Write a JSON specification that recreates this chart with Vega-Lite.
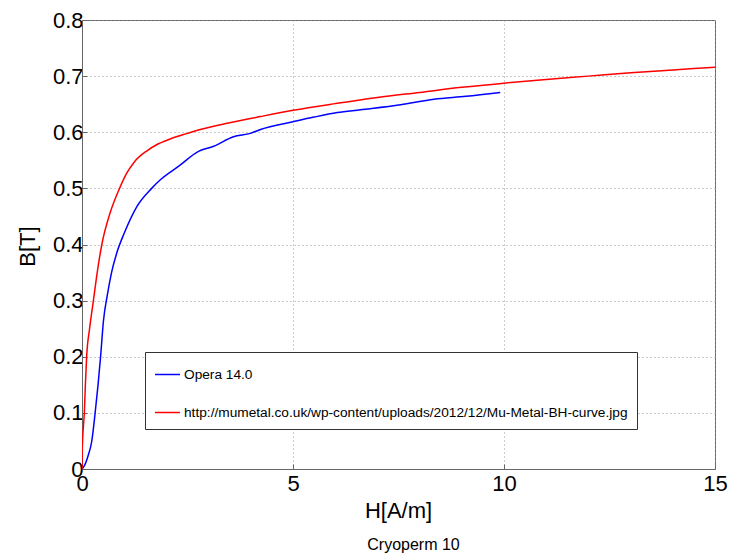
{
  "$schema": "https://vega.github.io/schema/vega-lite/v6.json",
  "width": 633,
  "height": 449,
  "autosize": {"type": "none"},
  "padding": {"left": 82, "top": 20, "right": 19, "bottom": 91},
  "background": "white",
  "title": {
    "text": "Cryoperm 10",
    "orient": "bottom",
    "anchor": "middle",
    "font": "Liberation Sans",
    "fontSize": 16,
    "fontWeight": "normal",
    "color": "black",
    "dx": 15,
    "offset": 16
  },
  "config": {
    "font": "Liberation Sans",
    "view": {"stroke": "#666", "strokeWidth": 1},
    "axis": {
      "labelFont": "Liberation Sans",
      "labelFontSize": 22,
      "labelColor": "black",
      "labelFlush": false,
      "titleFont": "Liberation Sans",
      "titleFontSize": 22,
      "titleFontWeight": "normal",
      "titleColor": "black",
      "domainColor": "#666",
      "tickColor": "#666",
      "tickSize": -5,
      "gridColor": "#999999",
      "gridDash": [1, 3],
      "gridWidth": 1
    },
    "legend": {
      "labelFont": "Liberation Sans",
      "labelFontSize": 13.7,
      "labelColor": "black"
    }
  },
  "data": {
    "values": [
      {"s": "Opera 14.0", "H": 0, "B": 0},
      {"s": "Opera 14.0", "H": 0.05, "B": 0.005},
      {"s": "Opera 14.0", "H": 0.15, "B": 0.025},
      {"s": "Opera 14.0", "H": 0.23, "B": 0.049},
      {"s": "Opera 14.0", "H": 0.31, "B": 0.099},
      {"s": "Opera 14.0", "H": 0.38, "B": 0.15},
      {"s": "Opera 14.0", "H": 0.44, "B": 0.2},
      {"s": "Opera 14.0", "H": 0.51, "B": 0.265},
      {"s": "Opera 14.0", "H": 0.6, "B": 0.31},
      {"s": "Opera 14.0", "H": 0.7, "B": 0.35},
      {"s": "Opera 14.0", "H": 0.82, "B": 0.384},
      {"s": "Opera 14.0", "H": 1.0, "B": 0.42},
      {"s": "Opera 14.0", "H": 1.3, "B": 0.4676},
      {"s": "Opera 14.0", "H": 1.65, "B": 0.5},
      {"s": "Opera 14.0", "H": 1.85, "B": 0.515},
      {"s": "Opera 14.0", "H": 2.3, "B": 0.54},
      {"s": "Opera 14.0", "H": 2.76, "B": 0.566},
      {"s": "Opera 14.0", "H": 3.12, "B": 0.575},
      {"s": "Opera 14.0", "H": 3.59, "B": 0.592},
      {"s": "Opera 14.0", "H": 3.99, "B": 0.598},
      {"s": "Opera 14.0", "H": 4.23, "B": 0.605},
      {"s": "Opera 14.0", "H": 5.02, "B": 0.619},
      {"s": "Opera 14.0", "H": 5.5, "B": 0.627},
      {"s": "Opera 14.0", "H": 6.05, "B": 0.635},
      {"s": "Opera 14.0", "H": 6.6, "B": 0.64},
      {"s": "Opera 14.0", "H": 7.55, "B": 0.649},
      {"s": "Opera 14.0", "H": 8.34, "B": 0.659},
      {"s": "Opera 14.0", "H": 9.1, "B": 0.664},
      {"s": "Opera 14.0", "H": 9.91, "B": 0.671},
      {"s": "http://mumetal.co.uk/wp-content/uploads/2012/12/Mu-Metal-BH-curve.jpg", "H": 0, "B": 0},
      {"s": "http://mumetal.co.uk/wp-content/uploads/2012/12/Mu-Metal-BH-curve.jpg", "H": 0.005, "B": 0.03},
      {"s": "http://mumetal.co.uk/wp-content/uploads/2012/12/Mu-Metal-BH-curve.jpg", "H": 0.02, "B": 0.06},
      {"s": "http://mumetal.co.uk/wp-content/uploads/2012/12/Mu-Metal-BH-curve.jpg", "H": 0.055, "B": 0.1},
      {"s": "http://mumetal.co.uk/wp-content/uploads/2012/12/Mu-Metal-BH-curve.jpg", "H": 0.08, "B": 0.15},
      {"s": "http://mumetal.co.uk/wp-content/uploads/2012/12/Mu-Metal-BH-curve.jpg", "H": 0.11, "B": 0.2},
      {"s": "http://mumetal.co.uk/wp-content/uploads/2012/12/Mu-Metal-BH-curve.jpg", "H": 0.18, "B": 0.25},
      {"s": "http://mumetal.co.uk/wp-content/uploads/2012/12/Mu-Metal-BH-curve.jpg", "H": 0.27, "B": 0.3},
      {"s": "http://mumetal.co.uk/wp-content/uploads/2012/12/Mu-Metal-BH-curve.jpg", "H": 0.36, "B": 0.35},
      {"s": "http://mumetal.co.uk/wp-content/uploads/2012/12/Mu-Metal-BH-curve.jpg", "H": 0.47, "B": 0.4},
      {"s": "http://mumetal.co.uk/wp-content/uploads/2012/12/Mu-Metal-BH-curve.jpg", "H": 0.665, "B": 0.456},
      {"s": "http://mumetal.co.uk/wp-content/uploads/2012/12/Mu-Metal-BH-curve.jpg", "H": 0.89, "B": 0.5},
      {"s": "http://mumetal.co.uk/wp-content/uploads/2012/12/Mu-Metal-BH-curve.jpg", "H": 1.06, "B": 0.527},
      {"s": "http://mumetal.co.uk/wp-content/uploads/2012/12/Mu-Metal-BH-curve.jpg", "H": 1.25, "B": 0.548},
      {"s": "http://mumetal.co.uk/wp-content/uploads/2012/12/Mu-Metal-BH-curve.jpg", "H": 1.54, "B": 0.567},
      {"s": "http://mumetal.co.uk/wp-content/uploads/2012/12/Mu-Metal-BH-curve.jpg", "H": 1.8, "B": 0.579},
      {"s": "http://mumetal.co.uk/wp-content/uploads/2012/12/Mu-Metal-BH-curve.jpg", "H": 2.09, "B": 0.588},
      {"s": "http://mumetal.co.uk/wp-content/uploads/2012/12/Mu-Metal-BH-curve.jpg", "H": 2.5, "B": 0.598},
      {"s": "http://mumetal.co.uk/wp-content/uploads/2012/12/Mu-Metal-BH-curve.jpg", "H": 2.8, "B": 0.605},
      {"s": "http://mumetal.co.uk/wp-content/uploads/2012/12/Mu-Metal-BH-curve.jpg", "H": 3.5, "B": 0.617},
      {"s": "http://mumetal.co.uk/wp-content/uploads/2012/12/Mu-Metal-BH-curve.jpg", "H": 4.23, "B": 0.628},
      {"s": "http://mumetal.co.uk/wp-content/uploads/2012/12/Mu-Metal-BH-curve.jpg", "H": 5, "B": 0.639},
      {"s": "http://mumetal.co.uk/wp-content/uploads/2012/12/Mu-Metal-BH-curve.jpg", "H": 6, "B": 0.651},
      {"s": "http://mumetal.co.uk/wp-content/uploads/2012/12/Mu-Metal-BH-curve.jpg", "H": 7, "B": 0.662},
      {"s": "http://mumetal.co.uk/wp-content/uploads/2012/12/Mu-Metal-BH-curve.jpg", "H": 8, "B": 0.671},
      {"s": "http://mumetal.co.uk/wp-content/uploads/2012/12/Mu-Metal-BH-curve.jpg", "H": 9, "B": 0.68},
      {"s": "http://mumetal.co.uk/wp-content/uploads/2012/12/Mu-Metal-BH-curve.jpg", "H": 10, "B": 0.6875},
      {"s": "http://mumetal.co.uk/wp-content/uploads/2012/12/Mu-Metal-BH-curve.jpg", "H": 11, "B": 0.694},
      {"s": "http://mumetal.co.uk/wp-content/uploads/2012/12/Mu-Metal-BH-curve.jpg", "H": 12, "B": 0.7},
      {"s": "http://mumetal.co.uk/wp-content/uploads/2012/12/Mu-Metal-BH-curve.jpg", "H": 13, "B": 0.706},
      {"s": "http://mumetal.co.uk/wp-content/uploads/2012/12/Mu-Metal-BH-curve.jpg", "H": 14, "B": 0.711},
      {"s": "http://mumetal.co.uk/wp-content/uploads/2012/12/Mu-Metal-BH-curve.jpg", "H": 15, "B": 0.716}
    ]
  },
  "mark": {"type": "line", "strokeWidth": 1.5, "interpolate": "monotone", "clip": true},
  "encoding": {
    "x": {
      "field": "H",
      "type": "quantitative",
      "scale": {"domain": [0, 15], "nice": false},
      "axis": {
        "title": "H[A/m]",
        "values": [0, 5, 10, 15],
        "labelPadding": 9,
        "titleAlign": "center",
        "titleBaseline": "middle",
        "titleX": 316,
        "titleY": 41
      }
    },
    "y": {
      "field": "B",
      "type": "quantitative",
      "scale": {"domain": [0, 0.8], "nice": false},
      "axis": {
        "title": "B[T]",
        "values": [0, 0.1, 0.2, 0.3, 0.4, 0.5, 0.6, 0.7, 0.8],
        "format": "~g",
        "labelPadding": 4,
        "titleAngle": -90,
        "titleAlign": "center",
        "titleBaseline": "middle",
        "titleX": -55,
        "titleY": 226
      }
    },
    "color": {
      "field": "s",
      "type": "nominal",
      "sort": null,
      "scale": {
        "domain": ["Opera 14.0", "http://mumetal.co.uk/wp-content/uploads/2012/12/Mu-Metal-BH-curve.jpg"],
        "range": ["#0000ff", "#ff0000"]
      },
      "legend": {
        "title": null,
        "orient": "none",
        "legendX": 63,
        "legendY": 332,
        "symbolType": "stroke",
        "symbolSize": 625,
        "symbolStrokeWidth": 1.5,
        "labelOffset": 3,
        "rowPadding": 17,
        "padding": 9,
        "strokeColor": "#333",
        "fillColor": "white",
        "labelLimit": 600
      }
    }
  }
}
